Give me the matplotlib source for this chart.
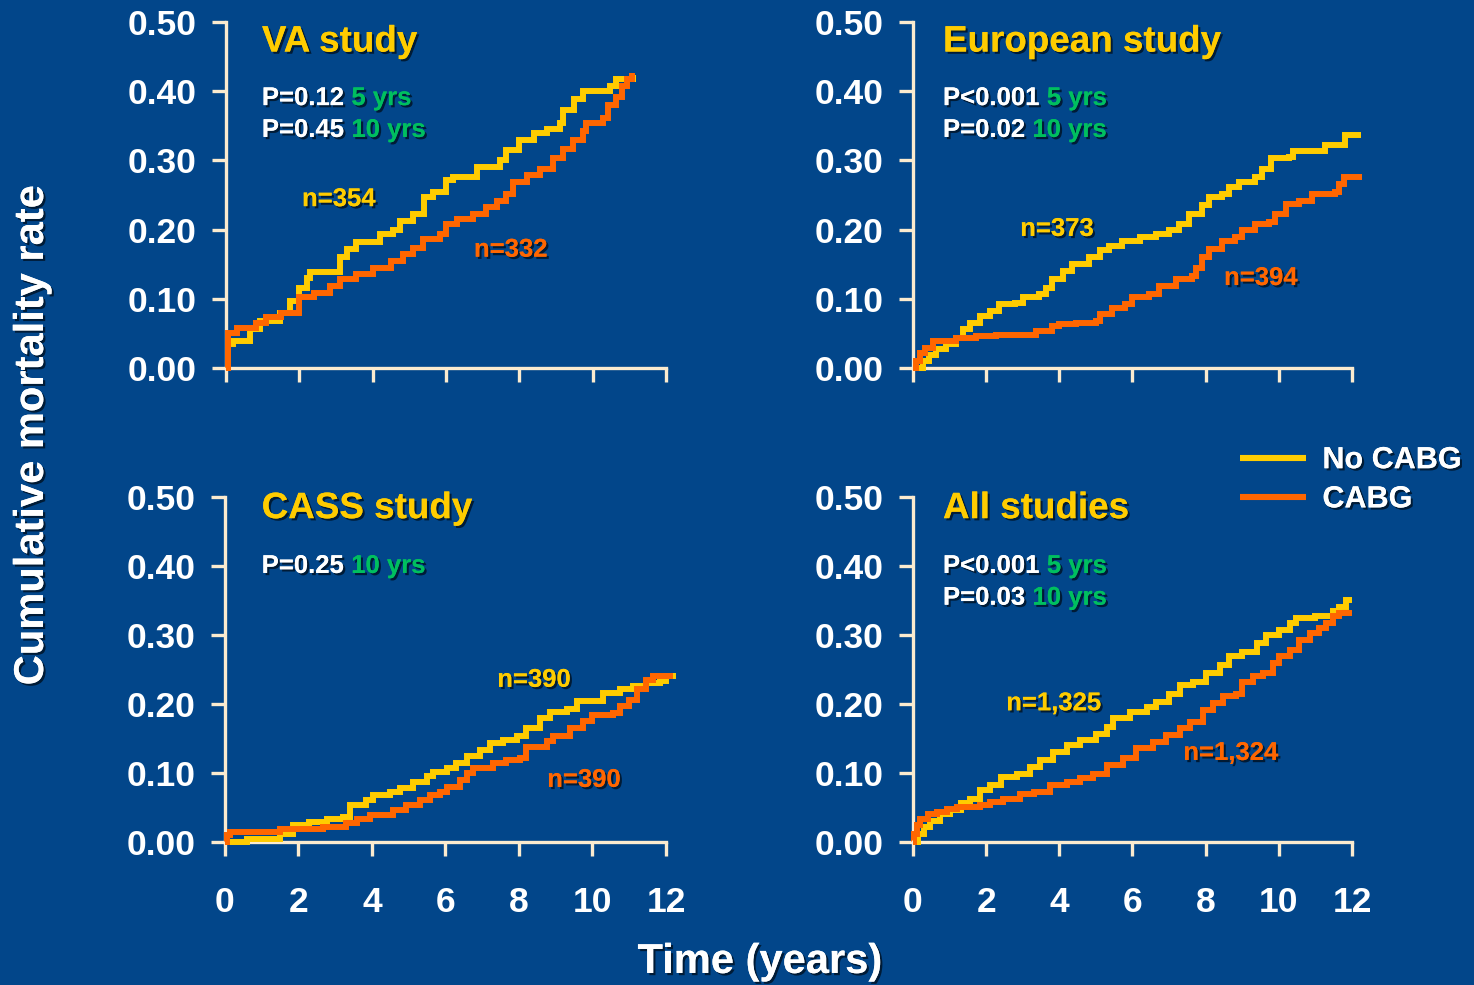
import matplotlib
matplotlib.use("Agg")
import matplotlib.pyplot as plt
import matplotlib.patheffects as pe

plt.rcParams["font.family"] = ["Liberation Sans", "DejaVu Sans"]
plt.rcParams["font.weight"] = "bold"

# ---------------------------------------------------------------------------
# Kaplan-Meier style cumulative mortality, (years, rate) step points
# ---------------------------------------------------------------------------
VA_NO_CABG = [(0.0, 0.0), (0.06, 0.034), (0.2, 0.039), (0.65, 0.056), (0.93, 0.068),
              (1.47, 0.08), (1.75, 0.097), (2.0, 0.116), (2.2, 0.13), (2.3, 0.138),
              (3.1, 0.16), (3.3, 0.172), (3.56, 0.182), (4.2, 0.194), (4.56, 0.199),
              (4.75, 0.213), (5.1, 0.223), (5.4, 0.247), (5.65, 0.254), (6.0, 0.271),
              (6.2, 0.276), (6.84, 0.29), (7.47, 0.30), (7.65, 0.315), (8.0, 0.329),
              (8.4, 0.339), (8.75, 0.346), (9.1, 0.354), (9.2, 0.373), (9.5, 0.388),
              (9.74, 0.40), (10.47, 0.407), (10.65, 0.417), (11.1, 0.424)]
VA_CABG = [(0.0, 0.0), (0.06, 0.051), (0.3, 0.058), (0.83, 0.065), (1.1, 0.073),
           (1.5, 0.08), (2.0, 0.102), (2.4, 0.108), (2.85, 0.119), (3.1, 0.128),
           (3.56, 0.136), (4.0, 0.145), (4.5, 0.155), (4.84, 0.165), (5.1, 0.174),
           (5.38, 0.187), (5.83, 0.194), (6.0, 0.208), (6.3, 0.216), (6.74, 0.223),
           (7.1, 0.233), (7.38, 0.242), (7.65, 0.252), (7.84, 0.269), (8.2, 0.279),
           (8.57, 0.288), (8.93, 0.303), (9.2, 0.317), (9.47, 0.329), (9.74, 0.342),
           (9.83, 0.354), (10.29, 0.361), (10.43, 0.38), (10.65, 0.392), (10.8, 0.407),
           (10.93, 0.417), (11.07, 0.426)]

EU_NO_CABG = [(0.0, 0.0), (0.27, 0.01), (0.45, 0.019), (0.64, 0.027), (0.9, 0.034),
              (1.18, 0.044), (1.36, 0.056), (1.55, 0.065), (1.82, 0.075), (2.1, 0.082),
              (2.36, 0.092), (2.8, 0.094), (3.0, 0.102), (3.45, 0.107), (3.64, 0.116),
              (3.8, 0.128), (4.1, 0.14), (4.36, 0.15), (4.8, 0.16), (5.1, 0.17),
              (5.36, 0.177), (5.7, 0.184), (6.2, 0.189), (6.64, 0.194), (7.0, 0.199),
              (7.27, 0.208), (7.55, 0.223), (7.9, 0.235), (8.1, 0.247), (8.45, 0.252),
              (8.64, 0.262), (8.9, 0.269), (9.36, 0.276), (9.55, 0.288), (9.8, 0.303),
              (10.27, 0.305), (10.4, 0.313), (11.27, 0.322), (11.8, 0.337), (12.25, 0.337)]
EU_CABG = [(0.0, 0.0), (0.09, 0.01), (0.18, 0.022), (0.32, 0.029), (0.55, 0.039),
           (1.18, 0.044), (1.73, 0.046), (2.27, 0.048), (3.36, 0.053), (3.8, 0.061),
           (4.0, 0.063), (4.45, 0.065), (5.0, 0.068), (5.1, 0.078), (5.45, 0.087),
           (5.8, 0.092), (6.0, 0.102), (6.45, 0.107), (6.73, 0.119), (7.18, 0.128),
           (7.64, 0.133), (7.73, 0.145), (7.9, 0.16), (8.1, 0.172), (8.45, 0.184),
           (8.8, 0.189), (9.0, 0.199), (9.36, 0.208), (9.73, 0.211), (9.9, 0.223),
           (10.2, 0.237), (10.55, 0.242), (10.9, 0.252), (11.55, 0.254), (11.64, 0.266),
           (11.77, 0.276), (12.27, 0.276)]

CASS_NO_CABG = [(0.0, 0.0), (0.6, 0.005), (1.5, 0.012), (1.86, 0.024), (2.3, 0.029),
                (2.77, 0.034), (3.2, 0.036), (3.4, 0.053), (3.85, 0.061), (4.04, 0.068),
                (4.5, 0.073), (4.76, 0.078), (5.12, 0.087), (5.5, 0.095), (5.67, 0.102),
                (6.03, 0.107), (6.3, 0.114), (6.58, 0.124), (6.94, 0.133), (7.2, 0.143),
                (7.57, 0.148), (7.94, 0.153), (8.2, 0.165), (8.57, 0.18), (8.84, 0.189),
                (9.3, 0.192), (9.57, 0.204), (10.3, 0.216), (10.75, 0.221), (11.1, 0.226),
                (11.47, 0.231), (11.84, 0.233), (12.0, 0.24), (12.2, 0.245)]
CASS_CABG = [(0.0, 0.0), (0.05, 0.01), (0.15, 0.015), (1.5, 0.019), (2.68, 0.022),
             (3.3, 0.027), (3.58, 0.034), (3.95, 0.039), (4.58, 0.046), (4.94, 0.053),
             (5.3, 0.061), (5.58, 0.068), (5.85, 0.073), (6.03, 0.08), (6.4, 0.09),
             (6.58, 0.1), (6.76, 0.107), (7.3, 0.114), (7.66, 0.119), (8.03, 0.121),
             (8.2, 0.138), (8.75, 0.146), (8.93, 0.153), (9.39, 0.165), (9.75, 0.175),
             (10.0, 0.184), (10.57, 0.187), (10.75, 0.197), (11.0, 0.206), (11.2, 0.221),
             (11.47, 0.235), (11.65, 0.24), (12.1, 0.245)]

ALL_NO_CABG = [(0.0, 0.0), (0.15, 0.012), (0.3, 0.022), (0.47, 0.031), (0.75, 0.041),
               (1.0, 0.046), (1.3, 0.056), (1.56, 0.063), (1.84, 0.075), (2.1, 0.082),
               (2.4, 0.094), (2.84, 0.099), (3.2, 0.109), (3.47, 0.119), (3.84, 0.131),
               (4.2, 0.14), (4.56, 0.148), (5.0, 0.157), (5.3, 0.167), (5.47, 0.179),
               (5.93, 0.189), (6.4, 0.196), (6.65, 0.203), (7.0, 0.215), (7.3, 0.228),
               (7.65, 0.232), (8.0, 0.245), (8.4, 0.257), (8.65, 0.269), (9.0, 0.276),
               (9.4, 0.288), (9.65, 0.3), (10.0, 0.307), (10.3, 0.317), (10.47, 0.324),
               (11.0, 0.327), (11.47, 0.334), (11.65, 0.341), (11.84, 0.351), (12.0, 0.351)]
ALL_CABG = [(0.0, 0.0), (0.02, 0.012), (0.1, 0.024), (0.2, 0.034), (0.4, 0.041),
            (0.65, 0.044), (0.93, 0.048), (1.2, 0.051), (1.84, 0.053), (2.1, 0.058),
            (2.47, 0.063), (2.93, 0.07), (3.3, 0.073), (3.75, 0.082), (4.2, 0.087),
            (4.56, 0.092), (4.93, 0.099), (5.3, 0.111), (5.75, 0.121), (6.1, 0.136),
            (6.56, 0.145), (6.93, 0.155), (7.3, 0.165), (7.56, 0.174), (7.93, 0.191),
            (8.2, 0.201), (8.47, 0.211), (8.84, 0.215), (9.0, 0.232), (9.3, 0.24),
            (9.56, 0.245), (9.84, 0.259), (10.0, 0.269), (10.3, 0.278), (10.56, 0.293),
            (10.84, 0.303), (11.1, 0.31), (11.3, 0.317), (11.47, 0.327), (11.65, 0.332),
            (12.0, 0.332)]

PANEL_TITLES = ["VA study", "European study", "CASS study", "All studies"]
P_VALUES = [[("P=0.12", "5 yrs"), ("P=0.45", "10 yrs")],
            [("P<0.001", "5 yrs"), ("P=0.02", "10 yrs")],
            [("P=0.25", "10 yrs")],
            [("P<0.001", "5 yrs"), ("P=0.03", "10 yrs")]]
N_LABELS = [("n=354", "n=332"), ("n=373", "n=394"),
            ("n=390", "n=390"), ("n=1,325", "n=1,324")]
SERIES_NAMES = ["No CABG", "CABG"]
Y_TICKS = [0.0, 0.1, 0.2, 0.3, 0.4, 0.5]
X_TICKS = [0, 2, 4, 6, 8, 10, 12]

# ---------------------------------------------------------------------------
# Styling
# ---------------------------------------------------------------------------
BG = "#02468A"
AXIS = "#FBEBCF"
YELLOW = "#FFCC00"
ORANGE = "#FF6600"
GREEN = "#00BF5F"
WHITE = "#FFFFFF"

SHADOW = [pe.withSimplePatchShadow(offset=(1.6, -1.6), shadow_rgbFace="#001428", alpha=0.85),
          pe.Normal()]

fig = plt.figure(figsize=(14.74, 9.85), dpi=100, facecolor=BG)

# axes rectangles in figure fraction
RECTS = [[0.1533, 0.6264, 0.2985, 0.3513],
         [0.6194, 0.6264, 0.2978, 0.3513],
         [0.1526, 0.1452, 0.2992, 0.3503],
         [0.6194, 0.1452, 0.2978, 0.3503]]

# per-panel text anchors in data units: title/p-value x, title y, p-line ys, n-label positions
LAYOUT = [
    dict(tx=0.98, ty=0.471, py=[0.390, 0.344], n_no=(3.08, 0.244), n_cabg=(7.77, 0.171)),
    dict(tx=0.82, ty=0.471, py=[0.390, 0.344], n_no=(3.94, 0.201), n_cabg=(9.51, 0.130)),
    dict(tx=1.00, ty=0.483, py=[0.400], n_no=(8.41, 0.235), n_cabg=(9.77, 0.090)),
    dict(tx=0.82, ty=0.483, py=[0.400, 0.354], n_no=(3.85, 0.201), n_cabg=(8.69, 0.129)),
]

DATASETS = [(VA_NO_CABG, VA_CABG), (EU_NO_CABG, EU_CABG),
            (CASS_NO_CABG, CASS_CABG), (ALL_NO_CABG, ALL_CABG)]

handles = []
for i, rect in enumerate(RECTS):
    ax = fig.add_axes(rect)
    ax.set_facecolor(BG)
    ax.patch.set_alpha(0)
    ax.set_xlim(0, 12)
    ax.set_ylim(0, 0.5)

    for side in ("top", "right"):
        ax.spines[side].set_visible(False)
    for side in ("left", "bottom"):
        ax.spines[side].set_color(AXIS)
        ax.spines[side].set_linewidth(2.4)
    ax.spines["left"].set_bounds(0, 0.5)
    ax.spines["bottom"].set_bounds(0, 12)

    ax.set_yticks(Y_TICKS)
    ax.set_yticklabels([f"{v:.2f}" for v in Y_TICKS])
    ax.set_xticks(X_TICKS)
    ax.set_xticklabels([str(v) for v in X_TICKS])
    ax.tick_params(axis="both", direction="out", length=10, width=2.4, color=AXIS,
                   labelcolor=WHITE, labelsize=25.5)
    ax.tick_params(axis="y", pad=11)
    ax.tick_params(axis="x", pad=22)
    if i < 2:
        # upper row shares the time scale of the lower row; ticks only
        ax.tick_params(axis="x", labelbottom=False)
    for lbl in ax.get_xticklabels() + ax.get_yticklabels():
        lbl.set_fontweight("bold")

    no_cabg, cabg = DATASETS[i]
    h_no, = ax.step([p[0] for p in no_cabg], [p[1] for p in no_cabg], where="post",
                    color=YELLOW, lw=4.3, clip_on=False, zorder=3,
                    solid_joinstyle="miter", solid_capstyle="butt")
    h_cabg, = ax.step([p[0] for p in cabg], [p[1] for p in cabg], where="post",
                      color=ORANGE, lw=4.3, clip_on=False, zorder=4,
                      solid_joinstyle="miter", solid_capstyle="butt")
    if i == 0:
        handles = [h_no, h_cabg]

    lay = LAYOUT[i]
    ax.text(lay["tx"], lay["ty"], PANEL_TITLES[i], color=YELLOW, fontsize=26.5,
            fontweight="bold", ha="left", va="center", path_effects=SHADOW)

    for (pval, span), yy in zip(P_VALUES[i], lay["py"]):
        t1 = ax.text(lay["tx"], yy, pval, color=WHITE, fontsize=18.5, fontweight="bold",
                     ha="left", va="center", path_effects=SHADOW)
        ax.annotate(" " + span, xy=(1, 0), xycoords=t1, ha="left", va="bottom",
                    color=GREEN, fontsize=18.5, fontweight="bold", path_effects=SHADOW)

    n_no, n_cabg = N_LABELS[i]
    ax.text(*lay["n_no"], n_no, color=YELLOW, fontsize=18.5, fontweight="bold",
            ha="center", va="center", path_effects=SHADOW)
    ax.text(*lay["n_cabg"], n_cabg, color=ORANGE, fontsize=18.5, fontweight="bold",
            ha="center", va="center", path_effects=SHADOW)

# shared axis titles
fig.text(0.0217, 0.5584, "Cumulative mortality rate", rotation=90, color=WHITE,
         fontsize=30, fontweight="bold", ha="center", va="center", path_effects=SHADOW)
fig.text(0.5156, 0.0234, "Time (years)", color=WHITE, fontsize=30, fontweight="bold",
         ha="center", va="center", path_effects=SHADOW)

# legend
leg = fig.legend(handles, SERIES_NAMES, loc="upper left", bbox_to_anchor=(0.8412, 0.548),
                 frameon=False, borderpad=0, borderaxespad=0, handlelength=2.15,
                 handletextpad=0.55, labelspacing=0.3, prop=dict(size=22, weight="bold"))
for line in leg.get_lines():
    line.set_linewidth(4.4)
for txt in leg.get_texts():
    txt.set_color(WHITE)
    txt.set_path_effects(SHADOW)

fig.savefig("out.png", dpi=100, facecolor=BG)
